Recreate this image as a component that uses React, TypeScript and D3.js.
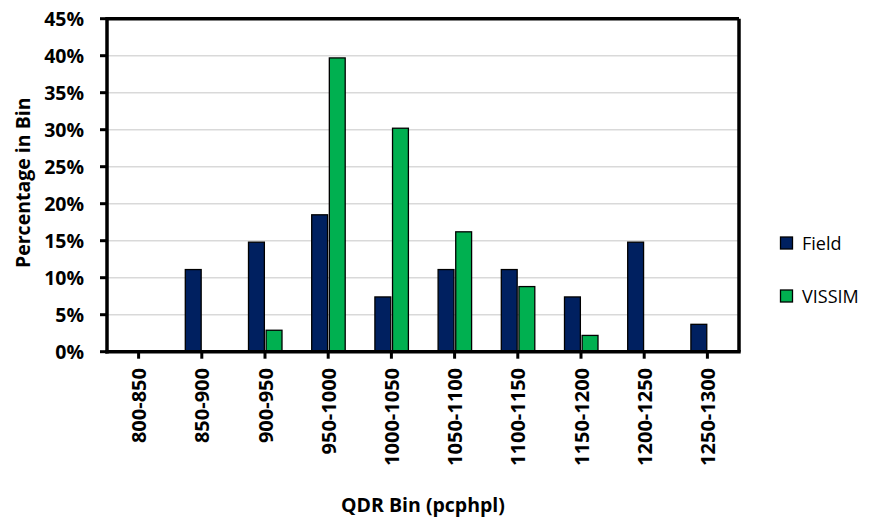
import React from "react";
import * as d3 from "d3";

const categories = ["800-850", "850-900", "900-950", "950-1000", "1000-1050", "1050-1100", "1100-1150", "1150-1200", "1200-1250", "1250-1300"];
const fieldValues = [0, 11.1, 14.8, 18.5, 7.4, 11.1, 11.1, 7.4, 14.8, 3.7];
const vissimValues = [0, 0, 2.9, 39.7, 30.2, 16.2, 8.8, 2.2, 0, 0];
const yTicks = [0, 5, 10, 15, 20, 25, 30, 35, 40, 45];
const seriesNames = ["Field", "VISSIM"];
const seriesColors = ["#002060", "#00B050"];

const W = 870;
const H = 521;
const left = 107;
const right = 739;
const top = 18.7;
const bottom = 351.7;

export default function App() {
  const x = d3.scaleBand<string>().domain(categories).range([left, right]).padding(0);
  const y = d3.scaleLinear().domain([0, 45]).range([bottom, top]);
  const inner = d3.scaleBand<string>().domain(seriesNames).range([-16.5, 17]).paddingInner(0.1);
  const series = [fieldValues, vissimValues];
  const font = "'Open Sans', sans-serif";

  return (
    <svg width={W} height={H} style={{ position: "absolute", left: 0, top: 0, background: "#fff" }}>
      {/* gridlines */}
      {yTicks.map((t) => (
        <line key={"g" + t} x1={left} x2={right} y1={y(t)} y2={y(t)} stroke="#d9d9d9" strokeWidth={1.5} />
      ))}
      {/* bars */}
      {series.map((vals, si) =>
        vals.map((v, i) =>
          v > 0 ? (
            <rect
              key={si + "-" + i}
              x={(x(categories[i]) as number) + x.bandwidth() / 2 + (inner(seriesNames[si]) as number)}
              y={y(v)}
              width={inner.bandwidth()}
              height={y(0) - y(v)}
              fill={seriesColors[si]}
              stroke="#000"
              strokeWidth={1.3}
            />
          ) : null
        )
      )}
      {/* frame */}
      <line x1={left} x2={right} y1={top} y2={top} stroke="#000" strokeWidth={3.5} />
      <line x1={right} x2={right} y1={top} y2={bottom} stroke="#000" strokeWidth={3.5} />
      <line x1={left} x2={left} y1={top - 1.7} y2={bottom + 1.7} stroke="#000" strokeWidth={3.5} />
      <line x1={left - 1.7} x2={right + 1.7} y1={bottom} y2={bottom} stroke="#000" strokeWidth={3.5} />
      {/* y ticks */}
      {yTicks.map((t) => (
        <g key={"yt" + t}>
          <line x1={left - 7} x2={left} y1={y(t)} y2={y(t)} stroke="#000" strokeWidth={3} />
          <text x={84} y={y(t)} textAnchor="end" dominantBaseline="central" fontFamily={font} fontWeight={700} fontSize={19.5} fill="#000">
            {t + "%"}
          </text>
        </g>
      ))}
      {/* x ticks */}
      {categories.map((c) => {
        const cx = (x(c) as number) + x.bandwidth() / 2;
        return (
          <g key={"xt" + c}>
            <line x1={cx} x2={cx} y1={bottom} y2={bottom + 7} stroke="#000" strokeWidth={3} />
            <text
              transform={`translate(${cx},368) rotate(-90)`}
              textAnchor="end"
              dominantBaseline="central"
              fontFamily={font}
              fontWeight={700}
              fontSize={20}
              fill="#000"
            >
              {c}
            </text>
          </g>
        );
      })}
      {/* axis titles */}
      <text x={(left + right) / 2} y={512} textAnchor="middle" fontFamily={font} fontWeight={700} fontSize={19.5} fill="#000">
        QDR Bin (pcphpl)
      </text>
      <text transform={`translate(29.5,268) rotate(-90)`} textAnchor="start" fontFamily={font} fontWeight={700} fontSize={19.5} fill="#000">
        Percentage in Bin
      </text>
      {/* legend */}
      {seriesNames.map((s, i) => {
        const cy = 243 + i * 53;
        return (
          <g key={"lg" + s}>
            <rect x={780.5} y={cy - 6} width={12} height={12} fill={seriesColors[i]} stroke="#000" strokeWidth={1.3} />
            <text x={802} y={cy} dominantBaseline="central" fontFamily={font} fontSize={18} fill="#000">
              {s}
            </text>
          </g>
        );
      })}
    </svg>
  );
}
